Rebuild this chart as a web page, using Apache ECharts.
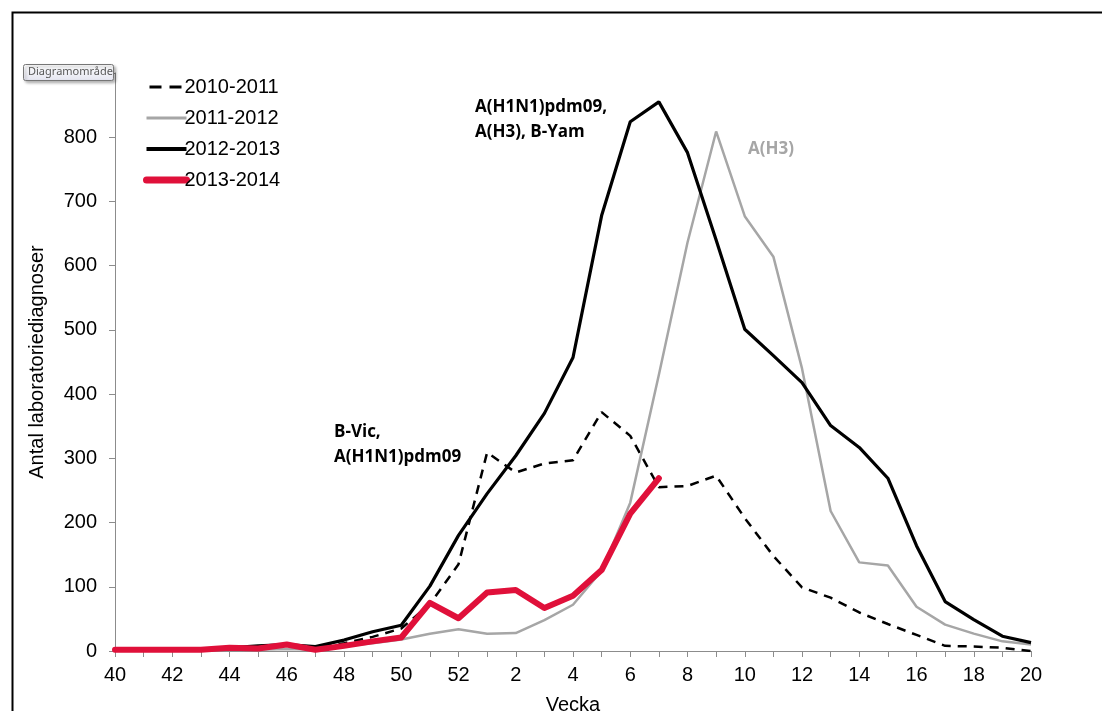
<!DOCTYPE html>
<html>
<head>
<meta charset="utf-8">
<script src="https://cdn.jsdelivr.net/npm/echarts@6/dist/echarts.min.js"></script>
<style>
html,body{margin:0;padding:0;background:#fff;}
#c{width:1102px;height:711px;}
</style>
</head>
<body>
<div id="c"></div>
<script>
var weeks = ['40','41','42','43','44','45','46','47','48','49','50','51','52',
  '1','2','3','4','5','6','7','8','9','10','11','12','13','14','15','16','17','18','19','20'];
var s2010_2011 = [2,2,2,2,3,5,8,5,12,22,35,73,135,
  309,278,292,297,372,335,255,257,273,207,148,99,83,60,42,25,8,7,5,0];
var s2011_2012 = [1,1,1,1,2,2,3,2,8,12,18,27,34,
  27,28,48,72,125,231,430,636,809,677,614,440,218,138,133,69,41,27,15,10];
var s2012_2013 = [2,2,2,2,5,8,10,7,17,30,40,101,180,
  245,304,370,457,678,824,855,776,640,501,460,418,351,317,269,164,77,49,23,13];
var s2013_2014 = [2,2,2,2,5,4,10,2,8,15,21,75,51,
  91,95,67,86,126,214,269];
var seriesNames = ['2010-2011','2011-2012','2012-2013','2013-2014'];
var yTicks = {min:0, max:900, interval:100};

var chart = echarts.init(document.getElementById('c'));
var font = '"Liberation Sans", Arial, sans-serif';
var annFont = '"Open Sans", "Noto Sans", sans-serif';
var black = '#000', gray = '#a6a6a6', red = '#e0103a';
chart.setOption({
  animation:false,
  backgroundColor:'#fff',
  grid:{left:115, right:71, top:73, bottom:60, containLabel:false, outerBoundsMode:'none'},
  legend:{
    orient:'vertical', left:138, top:72, itemGap:11,
    itemWidth:40, itemHeight:21,
    itemStyle:{opacity:0},
    textStyle:{fontFamily:font, fontSize:20, color:'#000', padding:[0,0,0,-7]},
    data:[
      {name:seriesNames[0], lineStyle:{width:3, type:[12,8], dashOffset:-3}},
      {name:seriesNames[1], lineStyle:{width:3}},
      {name:seriesNames[2], lineStyle:{width:4}},
      {name:seriesNames[3], lineStyle:{width:7, cap:'round'}}
    ]
  },
  xAxis:{
    type:'category', data:weeks, boundaryGap:false,
    name:'Vecka', nameLocation:'middle', nameGap:44,
    nameTextStyle:{fontFamily:font, fontSize:20, color:'#000'},
    axisLine:{lineStyle:{color:'#8c8c8c', width:1}},
    axisTick:{show:true, interval:0, length:6, lineStyle:{color:'#8c8c8c'}},
    axisLabel:{interval:1, fontFamily:font, fontSize:20, color:'#000', margin:14},
    splitLine:{show:false}
  },
  yAxis:{
    type:'value', min:yTicks.min, max:yTicks.max, interval:yTicks.interval,
    name:'Antal laboratoriediagnoser', nameLocation:'middle', nameGap:68,
    nameTextStyle:{fontFamily:font, fontSize:20, color:'#000'},
    axisLine:{show:true, lineStyle:{color:'#8c8c8c', width:1}},
    axisTick:{show:true, length:6, lineStyle:{color:'#8c8c8c'}},
    axisLabel:{fontFamily:font, fontSize:20, color:'#000', margin:18},
    splitLine:{show:false}
  },
  series:[
    {name:seriesNames[0], type:'line', data:s2010_2011, symbol:'none', z:2,
     lineStyle:{color:black, width:2.5, type:[9,7]}, itemStyle:{color:black}},
    {name:seriesNames[1], type:'line', data:s2011_2012, symbol:'none', z:2,
     lineStyle:{color:gray, width:2.5}, itemStyle:{color:gray}},
    {name:seriesNames[2], type:'line', data:s2012_2013, symbol:'none', z:3,
     lineStyle:{color:black, width:3.2}, itemStyle:{color:black}},
    {name:seriesNames[3], type:'line', data:s2013_2014, symbol:'none', z:4,
     lineStyle:{color:red, width:6, cap:'round', join:'round'}, itemStyle:{color:red}}
  ],
  graphic:[
    {type:'rect', left:10, top:10, shape:{width:1100, height:720},
     style:{fill:null, stroke:'#000', lineWidth:2}, silent:true, z:-1},
    {type:'text', left:475, top:95,
     style:{text:'A(H1N1)pdm09,\nA(H3), B-Yam', font:'bold 17px '+annFont, fill:'#000', lineHeight:25}},
    {type:'text', left:748, top:141,
     style:{text:'A(H3)', font:'bold 17px '+annFont, fill:gray}},
    {type:'text', left:334, top:420,
     style:{text:'B-Vic,\nA(H1N1)pdm09', font:'bold 17px '+annFont, fill:'#000', lineHeight:25}},
    {type:'rect', left:23, top:64, z:200, zlevel:1, shape:{width:90, height:16, r:2},
     style:{fill:new echarts.graphic.LinearGradient(0,0,0,1,[{offset:0,color:'#ffffff'},{offset:1,color:'#e4e5f0'}]), stroke:'#767676', lineWidth:1,
       shadowBlur:3, shadowColor:'rgba(0,0,0,0.3)', shadowOffsetX:2, shadowOffsetY:2}},
    {type:'text', left:28, top:66, z:201, zlevel:1,
     style:{text:'Diagramområde', font:'11px "Noto Sans", sans-serif', fill:'#575757'}}
  ]
});
</script>
</body>
</html>
